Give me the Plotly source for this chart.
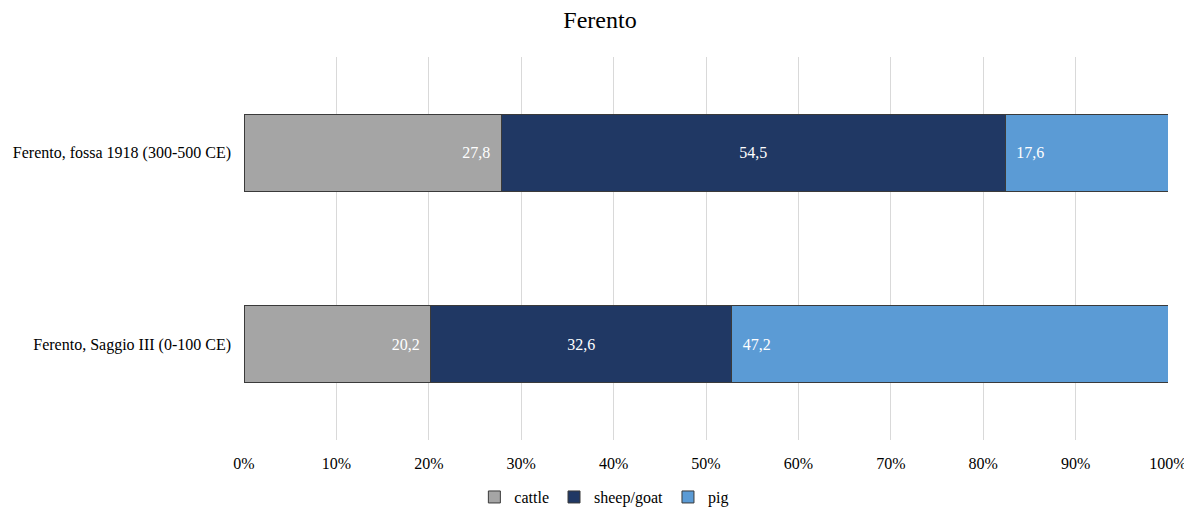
import plotly.graph_objects as go

categories = ["Ferento, Saggio III (0-100 CE)", "Ferento, fossa 1918 (300-500 CE)"]
series_names = ["cattle", "sheep/goat", "pig"]
cattle = [20.2, 27.8]
sheep_goat = [32.6, 54.5]
pig = [47.2, 17.6]
tick_vals = [0, 10, 20, 30, 40, 50, 60, 70, 80, 90, 100]
tick_text = [f"{v}%" for v in tick_vals]

colors = ["#A5A5A5", "#203864", "#5B9BD5"]
anchors = ["end", "middle", "start"]
pads = [("", "\u00a0\u00a0"), ("", ""), ("\u00a0\u00a0", "")]
font = "Liberation Serif, Times New Roman, serif"

fig = go.Figure()
for name, vals, col, anc, (pre, post) in zip(series_names, [cattle, sheep_goat, pig], colors, anchors, pads):
    fig.add_trace(go.Bar(
        y=categories, x=vals, name=name, orientation="h",
        marker=dict(color=col, line=dict(color="#3A3A3A", width=1)),
        text=[pre + f"{v:.1f}".replace(".", ",") + post for v in vals],
        textposition="inside", insidetextanchor=anc,
        textfont=dict(color="white", size=16, family=font),
        hoverinfo="x+name",
    ))

fig.update_layout(
    barmode="stack", barnorm="percent", bargap=0.6,
    width=1184, height=500,
    margin=dict(l=236, r=24, t=49, b=68, autoexpand=False),
    paper_bgcolor="white", plot_bgcolor="white",
    title=dict(text="Ferento", x=0.5, xanchor="center", y=0.976, yanchor="middle",
               font=dict(family=font, size=24, color="black")),
    font=dict(family=font, size=16, color="black"),
    legend=dict(orientation="h", x=0.39, xanchor="center", y=-0.149, yanchor="middle",
                itemwidth=30, font=dict(family=font, size=16, color="black"),
                traceorder="normal"),
    showlegend=True,
)
fig.update_xaxes(range=[0, 100], tickvals=tick_vals, ticktext=tick_text,
                 showgrid=True, gridcolor="#D9D9D9", gridwidth=1, zeroline=False,
                 showline=False, ticks="", ticklabelstandoff=12, automargin=False,
                 tickfont=dict(family=font, size=16, color="black"))
fig.update_yaxes(showgrid=False, zeroline=False, showline=False, ticks="",
                 ticklabelstandoff=12, automargin=False,
                 tickfont=dict(family=font, size=16, color="black"))

fig.write_html("out.html")
